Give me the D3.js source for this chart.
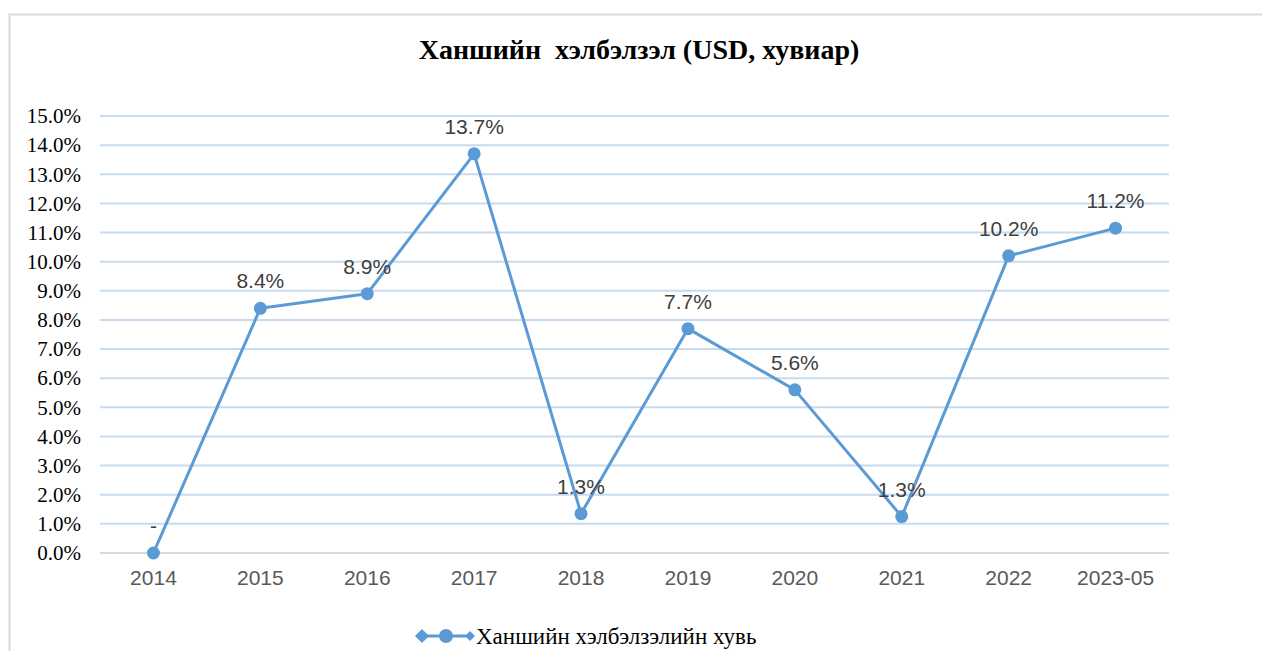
<!DOCTYPE html>
<html lang="mn">
<head>
<meta charset="UTF-8">
<script src="https://d3js.org/d3.v7.min.js"></script>
<style>
  body { margin: 0; background: #fff; }
</style>
</head>
<body>
<div id="container"></div>
<script>
const years = ["2014", "2015", "2016", "2017", "2018", "2019", "2020", "2021", "2022", "2023-05"];
const values = [0, 8.4, 8.9, 13.7, 1.35, 7.7, 5.6, 1.25, 10.2, 11.15];
const labels = ["-", "8.4%", "8.9%", "13.7%", "1.3%", "7.7%", "5.6%", "1.3%", "10.2%", "11.2%"];
const yTicks = d3.range(0, 16, 1);
const title = "Ханшийн  хэлбэлзэл (USD, хувиар)";
const seriesName = "Ханшийн хэлбэлзэлийн хувь";

const width = 1262, height = 651;
const margin = {left: 100, right: 93, top: 116, bottom: 98};
const blue = "#5b9bd5";
const serif = "'Liberation Serif', 'Times New Roman', serif";
const sans = "'Liberation Sans', Arial, sans-serif";

const svg = d3.select("#container")
    .append("svg")
    .attr("width", width)
    .attr("height", height);

// frame
svg.append("rect")
    .attr("x", 9.5).attr("y", 14.5)
    .attr("width", 1270).attr("height", 660)
    .attr("fill", "#fff")
    .attr("stroke", "#d9d9d9")
    .attr("stroke-width", 2);

svg.append("text")
    .attr("x", 639).attr("y", 59)
    .attr("text-anchor", "middle")
    .style("font-family", serif)
    .style("font-weight", "bold")
    .style("font-size", "28px")
    .style("white-space", "pre")
    .attr("fill", "#000")
    .text(title);

const x = d3.scaleBand()
    .domain(years)
    .range([margin.left, width - margin.right]);

const y = d3.scaleLinear()
    .domain([0, 15])
    .range([height - margin.bottom, margin.top]);

// grid
svg.append("g")
    .selectAll("line")
    .data(yTicks)
    .enter()
    .append("line")
    .attr("x1", margin.left)
    .attr("x2", width - margin.right)
    .attr("y1", d => y(d))
    .attr("y2", d => y(d))
    .attr("stroke", d => d === 0 ? "#d9d9d9" : "#c6dbef")
    .attr("stroke-width", 2);

// y axis labels
const yAxis = svg.append("g")
    .attr("transform", `translate(${margin.left - 19},0)`)
    .call(d3.axisLeft(y).tickValues(yTicks).tickFormat(d => d.toFixed(1) + "%").tickSize(0).tickPadding(0));
yAxis.select(".domain").remove();
yAxis.selectAll("text")
    .style("font-family", serif)
    .style("font-size", "21px")
    .attr("fill", "#000");

// x axis labels
const xAxis = svg.append("g")
    .attr("transform", `translate(0,${height - margin.bottom})`)
    .call(d3.axisBottom(x).tickSize(0).tickPadding(17));
xAxis.select(".domain").remove();
xAxis.selectAll("text")
    .style("font-family", sans)
    .style("font-size", "21px")
    .attr("fill", "#595959");

const cx = d => x(d) + x.bandwidth() / 2;

// line
svg.append("path")
    .datum(values)
    .attr("fill", "none")
    .attr("stroke", blue)
    .attr("stroke-width", 3)
    .attr("stroke-linejoin", "round")
    .attr("d", d3.line().x((d, i) => cx(years[i])).y(d => y(d)));

svg.append("g")
    .selectAll("circle")
    .data(values)
    .enter()
    .append("circle")
    .attr("cx", (d, i) => cx(years[i]))
    .attr("cy", d => y(d))
    .attr("r", 6.5)
    .attr("fill", blue);

// data labels
svg.append("g")
    .selectAll("text")
    .data(values)
    .enter()
    .append("text")
    .attr("x", (d, i) => cx(years[i]))
    .attr("y", d => y(d) - 20)
    .attr("text-anchor", "middle")
    .style("font-family", sans)
    .style("font-size", "21px")
    .attr("fill", "#404040")
    .text((d, i) => labels[i]);

// legend
const lg = svg.append("g").attr("transform", "translate(415,636)");
lg.append("line")
    .attr("x1", 2).attr("x2", 58)
    .attr("stroke", blue).attr("stroke-width", 3);
lg.append("path")
    .attr("d", "M0,0 L7,-7 L14,0 L7,7 Z")
    .attr("fill", blue);
lg.append("path")
    .attr("d", "M50,0 L55,-5 L60,0 L55,5 Z")
    .attr("fill", blue);
lg.append("circle")
    .attr("cx", 31).attr("r", 7)
    .attr("fill", blue);
lg.append("text")
    .attr("x", 61).attr("y", 8)
    .style("font-family", serif)
    .style("font-size", "23px")
    .attr("fill", "#000")
    .text(seriesName);
</script>
</body>
</html>
